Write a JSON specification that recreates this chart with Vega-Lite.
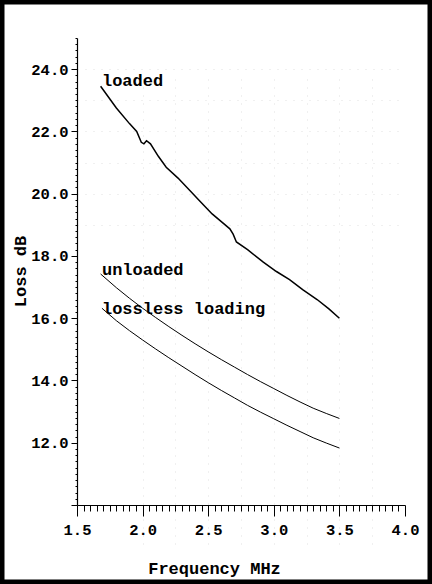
{
  "$schema": "https://vega.github.io/schema/vega-lite/v6.json",
  "width": 432,
  "height": 584,
  "autosize": {"type": "none"},
  "padding": 0,
  "background": "white",
  "config": {
    "view": {"stroke": "black", "strokeWidth": 9, "fill": "white"},
    "font": "Liberation Mono"
  },
  "datasets": {
    "curves": [
      {"series": "loaded", "f": 1.68, "L": 23.45},
      {"series": "loaded", "f": 1.80, "L": 22.75},
      {"series": "loaded", "f": 1.90, "L": 22.25},
      {"series": "loaded", "f": 1.955, "L": 22.0},
      {"series": "loaded", "f": 1.99, "L": 21.65},
      {"series": "loaded", "f": 2.01, "L": 21.6},
      {"series": "loaded", "f": 2.03, "L": 21.7},
      {"series": "loaded", "f": 2.06, "L": 21.6},
      {"series": "loaded", "f": 2.12, "L": 21.2},
      {"series": "loaded", "f": 2.18, "L": 20.85},
      {"series": "loaded", "f": 2.27, "L": 20.5},
      {"series": "loaded", "f": 2.36, "L": 20.1},
      {"series": "loaded", "f": 2.45, "L": 19.7},
      {"series": "loaded", "f": 2.53, "L": 19.35},
      {"series": "loaded", "f": 2.60, "L": 19.1},
      {"series": "loaded", "f": 2.665, "L": 18.87},
      {"series": "loaded", "f": 2.69, "L": 18.7},
      {"series": "loaded", "f": 2.715, "L": 18.45},
      {"series": "loaded", "f": 2.80, "L": 18.2},
      {"series": "loaded", "f": 2.92, "L": 17.8},
      {"series": "loaded", "f": 3.02, "L": 17.5},
      {"series": "loaded", "f": 3.12, "L": 17.24},
      {"series": "loaded", "f": 3.22, "L": 16.92},
      {"series": "loaded", "f": 3.33, "L": 16.6},
      {"series": "loaded", "f": 3.42, "L": 16.3},
      {"series": "loaded", "f": 3.50, "L": 16.0},
      {"series": "unloaded", "f": 1.68, "L": 17.42},
      {"series": "unloaded", "f": 1.80, "L": 16.98},
      {"series": "unloaded", "f": 1.90, "L": 16.64},
      {"series": "unloaded", "f": 2.00, "L": 16.32},
      {"series": "unloaded", "f": 2.10, "L": 16.02},
      {"series": "unloaded", "f": 2.20, "L": 15.73},
      {"series": "unloaded", "f": 2.30, "L": 15.45},
      {"series": "unloaded", "f": 2.40, "L": 15.18},
      {"series": "unloaded", "f": 2.50, "L": 14.92},
      {"series": "unloaded", "f": 2.60, "L": 14.67},
      {"series": "unloaded", "f": 2.70, "L": 14.43},
      {"series": "unloaded", "f": 2.80, "L": 14.19},
      {"series": "unloaded", "f": 2.90, "L": 13.96},
      {"series": "unloaded", "f": 3.00, "L": 13.74},
      {"series": "unloaded", "f": 3.10, "L": 13.52},
      {"series": "unloaded", "f": 3.20, "L": 13.31},
      {"series": "unloaded", "f": 3.30, "L": 13.11},
      {"series": "unloaded", "f": 3.40, "L": 12.94},
      {"series": "unloaded", "f": 3.50, "L": 12.78},
      {"series": "lossless loading", "f": 1.69, "L": 16.32},
      {"series": "lossless loading", "f": 1.80, "L": 15.92},
      {"series": "lossless loading", "f": 1.90, "L": 15.6},
      {"series": "lossless loading", "f": 2.00, "L": 15.3},
      {"series": "lossless loading", "f": 2.10, "L": 15.01},
      {"series": "lossless loading", "f": 2.20, "L": 14.73},
      {"series": "lossless loading", "f": 2.30, "L": 14.46},
      {"series": "lossless loading", "f": 2.40, "L": 14.19},
      {"series": "lossless loading", "f": 2.50, "L": 13.93},
      {"series": "lossless loading", "f": 2.60, "L": 13.68},
      {"series": "lossless loading", "f": 2.70, "L": 13.44},
      {"series": "lossless loading", "f": 2.80, "L": 13.2},
      {"series": "lossless loading", "f": 2.90, "L": 12.98},
      {"series": "lossless loading", "f": 3.00, "L": 12.77},
      {"series": "lossless loading", "f": 3.10, "L": 12.56},
      {"series": "lossless loading", "f": 3.20, "L": 12.36},
      {"series": "lossless loading", "f": 3.30, "L": 12.16},
      {"series": "lossless loading", "f": 3.40, "L": 11.99},
      {"series": "lossless loading", "f": 3.50, "L": 11.83}
    ],
    "labels": [
      {"series": "loaded", "f": 1.69, "L": 23.45},
      {"series": "unloaded", "f": 1.69, "L": 17.38},
      {"series": "lossless loading", "f": 1.69, "L": 16.15}
    ]
  },
  "encoding": {
    "x": {
      "field": "f",
      "type": "quantitative",
      "title": "Frequency MHz",
      "scale": {"domain": [1.5, 4.0], "range": [77, 405], "nice": false, "zero": false},
      "axis": {
        "offset": -79,
        "values": [1.5,1.55,1.6,1.65,1.7,1.75,1.8,1.85,1.9,1.95,2.0,2.05,2.1,2.15,2.2,2.25,2.3,2.35,2.4,2.45,2.5,2.55,2.6,2.65,2.7,2.75,2.8,2.85,2.9,2.95,3.0,3.05,3.1,3.15,3.2,3.25,3.3,3.35,3.4,3.45,3.5,3.55,3.6,3.65,3.7,3.75,3.8,3.85,3.9,3.95,4.0],
        "labelExpr": "abs(datum.value*2 - round(datum.value*2)) < 0.001 ? format(datum.value, '.1f') : ''",
        "labelFont": "Liberation Mono",
        "labelFontWeight": "bold",
        "labelFontSize": 15.5,
        "labelColor": "black",
        "labelPadding": 6,
        "labelFlush": false,
        "labelOverlap": false,
        "tickSize": {"condition": {"test": "abs(datum.value*2 - round(datum.value*2)) < 0.001", "value": 11}, "value": 6},
        "tickColor": "black",
        "tickWidth": 1,
        "domainColor": "black",
        "domainWidth": 1.2,
        "grid": true,
        "gridColor": "#999",
        "gridDash": [1, 7],
        "gridOpacity": {"condition": {"test": "abs(datum.value*4 - round(datum.value*4)) < 0.001 && datum.value > 1.9 && datum.value < 3.9", "value": 0.3}, "value": 0},
        "titleFont": "Liberation Mono",
        "titleFontWeight": "bold",
        "titleFontSize": 17,
        "titleColor": "black",
        "titleX": 214,
        "titleY": 68,
        "titleAlign": "center",
        "titleBaseline": "alphabetic"
      }
    },
    "y": {
      "field": "L",
      "type": "quantitative",
      "title": "Loss dB",
      "scale": {"domain": [10, 25], "range": [505, 38], "nice": false, "zero": false},
      "axis": {
        "offset": -77,
        "values": [10,10.2,10.4,10.6,10.8,11,11.2,11.4,11.6,11.8,12,12.2,12.4,12.6,12.8,13,13.2,13.4,13.6,13.8,14,14.2,14.4,14.6,14.8,15,15.2,15.4,15.6,15.8,16,16.2,16.4,16.6,16.8,17,17.2,17.4,17.6,17.8,18,18.2,18.4,18.6,18.8,19,19.2,19.4,19.6,19.8,20,20.2,20.4,20.6,20.8,21,21.2,21.4,21.6,21.8,22,22.2,22.4,22.6,22.8,23,23.2,23.4,23.6,23.8,24,24.2,24.4,24.6,24.8,25],
        "labelExpr": "(abs(datum.value/2 - round(datum.value/2)) < 0.001 && datum.value > 11 && datum.value < 25) ? format(datum.value, '.1f') : ''",
        "labelFont": "Liberation Mono",
        "labelFontWeight": "bold",
        "labelFontSize": 15.5,
        "labelColor": "black",
        "labelPadding": 3,
        "labelFlush": false,
        "labelOverlap": false,
        "tickSize": {"condition": {"test": "abs(datum.value/2 - round(datum.value/2)) < 0.001", "value": 6}, "value": 2},
        "tickColor": "black",
        "tickWidth": 1,
        "domainColor": "black",
        "domainWidth": 1.2,
        "grid": true,
        "gridColor": "#999",
        "gridDash": [1, 7],
        "gridOpacity": {"condition": {"test": "abs(datum.value - round(datum.value)) < 0.001 && datum.value > 18.5 && datum.value < 24.5", "value": 0.3}, "value": 0},
        "titleFont": "Liberation Mono",
        "titleFontWeight": "bold",
        "titleFontSize": 17,
        "titleColor": "black",
        "titleX": -57,
        "titleY": 271,
        "titleAngle": -90,
        "titleAlign": "center",
        "titleBaseline": "middle"
      }
    }
  },
  "layer": [
    {
      "data": {"name": "curves"},
      "mark": {"type": "line", "color": "black"},
      "encoding": {
        "detail": {"field": "series", "type": "nominal"},
        "order": {"field": "f", "type": "quantitative"},
        "strokeWidth": {"condition": {"test": "datum.series === 'loaded'", "value": 1.5}, "value": 1}
      }
    },
    {
      "data": {"name": "labels"},
      "mark": {"type": "text", "align": "left", "baseline": "alphabetic", "font": "Liberation Mono", "fontWeight": "bold", "fontSize": 17, "color": "black", "dx": 0},
      "encoding": {
        "text": {"field": "series", "type": "nominal"}
      }
    }
  ]
}
